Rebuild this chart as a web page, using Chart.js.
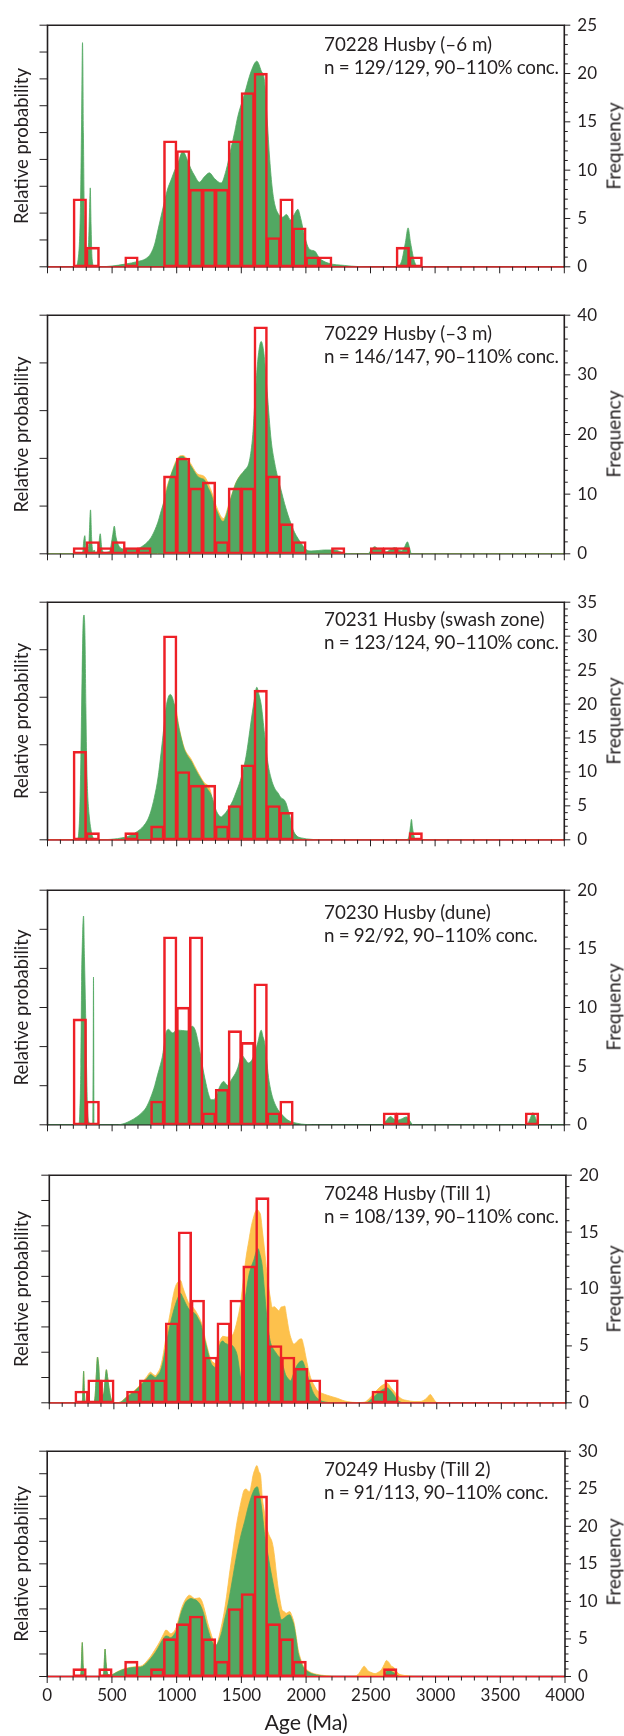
<!DOCTYPE html>
<html lang="en">
<head>
<meta charset="UTF-8" />
<title>Husby detrital zircon ages</title>
<script src="https://cdn.jsdelivr.net/npm/chart.js"></script>
<style>
  body { margin: 0; background: #fff; }
  #page { position: relative; width: 624px; height: 1736px; overflow: hidden; font-family: Lato, sans-serif; color: #231f20; }
  .panel { position: absolute; left: 0; }
  .sample { position: absolute; left: 324px; font-size: 18.8px; line-height: 23px; white-space: nowrap; }
  .sample span { letter-spacing: -0.3px; }
  .freq { position: absolute; left: 613px; font-size: 19px; white-space: nowrap; transform: translate(-50%, -50%) rotate(-90deg); }
</style>
</head>
<body>
<div id="page"></div>

<script>
  // ---- data ----
  // histogram bins (100 Ma wide), bin mid-points
  const binMid = [50,150,250,350,450,550,650,750,850,950,1050,1150,1250,1350,1450,1550,1650,1750,1850,1950,
                  2050,2150,2250,2350,2450,2550,2650,2750,2850,2950,3050,3150,3250,3350,3450,3550,3650,3750,3850,3950];

  const freq1 = [0,0,7,2,0,0,1,0,0,13, 12,8,8,8,13,18,20,3,7,4, 1,1,0,0,0,0,0,2,1,0, 0,0,0,0,0,0,0,0,0,0];
  const freq2 = [0,0,1,2,1,2,1,1,0,13, 16,11,12,2,11,11,38,13,5,2, 0,0,1,0,0,1,1,1,0,0, 0,0,0,0,0,0,0,0,0,0];
  const freq3 = [0,0,13,1,0,0,1,0,2,30, 10,8,8,2,5,11,22,5,4,0, 0,0,0,0,0,0,0,0,1,0, 0,0,0,0,0,0,0,0,0,0];
  const freq4 = [0,0,9,2,0,0,0,0,2,16, 10,16,1,3,8,7,12,1,2,0, 0,0,0,0,0,0,1,1,0,0, 0,0,0,0,0,0,0,1,0,0];
  const freq5 = [0,0,1,2,2,0,1,2,2,7, 15,9,4,7,9,12,18,5,4,3, 2,0,0,0,0,1,2,0,0,0, 0,0,0,0,0,0,0,0,0,0];
  const freq6 = [0,0,1,0,1,0,2,0,1,5, 7,8,5,2,9,11,24,7,5,2, 0,0,0,0,0,0,1,0,0,0, 0,0,0,0,0,0,0,0,0,0];

  // relative probability curves, [age Ma, value in left-axis tick units]
  const pdp1 = [[0,0],[215,0],[240,0.4],[255,2.2],[264,5.5],[271,8.35],[278,5.0],[285,1.8],[293,0.6],[305,0.4],[318,0.9],[326,2.2],[331,2.94],[337,1.6],[345,0.3],[360,0.02],[400,0],[500,0.03],[600,0.1],[700,0.2],[760,0.3],[800,0.5],[830,0.85],[853,1.33],[880,1.9],[904,2.4],[930,2.9],[956,3.23],[985,3.6],[1008,3.83],[1047,4.3],[1085,3.95],[1110,3.65],[1137,3.41],[1176,3.15],[1214,3.35],[1253,3.5],[1292,3.29],[1344,3.12],[1382,3.59],[1421,4.42],[1450,5.05],[1473,5.6],[1525,6.44],[1576,7.28],[1620,7.66],[1654,7.3],[1680,6.9],[1700,5.5],[1720,4.0],[1740,2.9],[1760,2.3],[1790,1.95],[1820,1.85],[1850,1.95],[1880,1.75],[1910,1.95],[1938,2.14],[1960,1.8],[1985,1.25],[2016,0.74],[2040,0.62],[2067,0.59],[2106,0.32],[2171,0.14],[2300,0.05],[2403,0.01],[2500,0],[2700,0],[2740,0.2],[2770,0.9],[2791,1.45],[2810,0.9],[2840,0.2],[2870,0],[4000,0]];

  const pdp2 = [[0,0],[270,0],[282,0.3],[289,0.38],[296,0.15],[305,0.05],[320,0.2],[333,0.92],[342,0.3],[352,0.05],[362,0.08],[372,0.02],[395,0.15],[408,0.42],[420,0.12],[440,0.03],[480,0.05],[505,0.4],[517,0.58],[530,0.35],[556,0.15],[594,0.1],[650,0.1],[698,0.11],[740,0.17],[775,0.25],[810,0.38],[853,0.65],[880,0.9],[904,1.12],[930,1.4],[956,1.65],[985,1.85],[1008,1.99],[1047,2.04],[1075,1.97],[1098,1.89],[1130,1.75],[1163,1.62],[1190,1.58],[1214,1.55],[1240,1.4],[1266,1.25],[1295,1.0],[1318,0.85],[1345,0.7],[1362,0.68],[1385,0.82],[1408,1.05],[1435,1.3],[1460,1.49],[1495,1.65],[1525,1.75],[1563,1.95],[1589,2.5],[1602,3.06],[1615,3.6],[1628,4.07],[1654,4.45],[1670,4.3],[1680,4.07],[1700,3.4],[1731,2.38],[1757,1.92],[1783,1.59],[1809,1.32],[1835,1.05],[1873,0.72],[1912,0.45],[1964,0.22],[2000,0.09],[2041,0.06],[2100,0.07],[2145,0.08],[2222,0.08],[2260,0.05],[2300,0.01],[2400,0],[2480,0],[2510,0.1],[2532,0.15],[2560,0.1],[2584,0.08],[2620,0.04],[2660,0.1],[2687,0.13],[2715,0.08],[2740,0.06],[2765,0.15],[2786,0.25],[2800,0.15],[2817,0],[4000,0]];
  const orange2 = [[0,0],[850,0],[900,1.1],[956,1.66],[1008,2.01],[1047,2.06],[1098,1.93],[1163,1.67],[1214,1.62],[1266,1.33],[1318,0.92],[1362,0.74],[1408,1.08],[1460,1.5],[1525,1.7],[1600,0],[4000,0]];

  const pdp3 = [[0,0],[230,0],[250,0.6],[258,1.69],[268,3.5],[276,4.58],[283,4.73],[290,4.3],[297,2.8],[303,1.7],[310,1.02],[323,0.5],[336,0.22],[350,0.06],[362,0.02],[400,0],[491,0.01],[594,0.05],[650,0.1],[698,0.18],[740,0.28],[775,0.42],[800,0.6],[827,0.89],[855,1.3],[879,1.83],[900,2.35],[917,2.77],[935,3.0],[951,3.06],[966,3.0],[982,2.84],[1000,2.6],[1021,2.3],[1040,2.08],[1059,1.9],[1085,1.76],[1111,1.66],[1137,1.52],[1163,1.39],[1190,1.27],[1214,1.16],[1240,1.06],[1266,0.95],[1285,0.8],[1305,0.62],[1325,0.52],[1344,0.48],[1362,0.52],[1382,0.58],[1410,0.7],[1434,0.82],[1460,1.0],[1486,1.19],[1510,1.42],[1537,1.76],[1556,2.1],[1576,2.5],[1598,2.9],[1620,3.21],[1637,3.05],[1654,2.84],[1680,2.22],[1705,1.63],[1731,1.29],[1757,1.09],[1783,0.99],[1809,0.88],[1829,0.85],[1845,0.78],[1860,0.65],[1880,0.45],[1899,0.22],[1930,0.08],[1964,0.04],[2041,0.01],[2100,0],[2780,0],[2800,0.1],[2810,0.3],[2817,0.43],[2825,0.25],[2840,0.05],[2850,0],[4000,0]];
  const orange3 = [[0,0],[950,0],[982,2.86],[1021,2.33],[1059,1.93],[1111,1.7],[1163,1.43],[1214,1.2],[1266,0.98],[1300,0],[4000,0]];

  const pdp4 = [[0,0],[240,0],[250,0.3],[258,1.5],[264,3.66],[272,4.9],[279,5.34],[286,4.3],[295,2.85],[302,1.5],[310,0.39],[323,0.05],[335,0],[352,0],[356,3.78],[360,0],[400,0],[540,0],[568,0.01],[600,0.04],[646,0.11],[690,0.2],[724,0.29],[765,0.45],[801,0.72],[830,1.0],[853,1.29],[875,1.55],[891,1.78],[905,2.1],[917,2.35],[938,2.44],[955,2.38],[969,2.35],[990,2.4],[1008,2.42],[1047,2.41],[1080,2.4],[1100,2.45],[1119,2.52],[1135,2.48],[1150,2.35],[1170,2.05],[1189,1.7],[1208,1.35],[1227,1.05],[1245,0.8],[1266,0.64],[1285,0.64],[1305,0.72],[1331,0.96],[1364,1.11],[1380,1.05],[1395,1.01],[1414,1.1],[1434,1.21],[1455,1.32],[1473,1.46],[1504,1.78],[1525,1.7],[1556,1.58],[1589,1.7],[1610,1.9],[1628,2.11],[1654,2.42],[1668,2.25],[1680,2.11],[1695,1.7],[1711,1.21],[1727,0.9],[1744,0.68],[1765,0.5],[1783,0.39],[1810,0.28],[1835,0.19],[1860,0.12],[1886,0.08],[1930,0.04],[1964,0.02],[2050,0],[2590,0],[2620,0.1],[2654,0.21],[2680,0.15],[2700,0.11],[2740,0.15],[2778,0.2],[2800,0.12],[2830,0],[3710,0],[3735,0.15],[3757,0.31],[3780,0.15],[3800,0],[4000,0]];

  const pdp5 = [[0,0],[250,0],[258,0.2],[266,1.25],[272,0.4],[280,0],[345,0],[355,0.3],[364,1.12],[373,1.81],[382,1.5],[392,0.62],[405,0.3],[421,0.37],[432,0.9],[442,1.31],[452,1.0],[462,0.6],[476,0.2],[490,0.05],[500,0],[550,0.02],[602,0.24],[654,0.43],[705,0.68],[735,0.85],[757,0.97],[783,1.12],[805,1.05],[822,1.0],[840,1.1],[860,1.25],[880,1.6],[899,2.13],[920,2.7],[938,3.14],[958,3.55],[977,3.89],[1000,4.2],[1016,4.33],[1035,4.15],[1054,3.95],[1075,3.75],[1093,3.64],[1112,3.58],[1132,3.51],[1150,3.35],[1171,3.14],[1190,2.8],[1209,2.38],[1228,2.0],[1248,1.62],[1268,1.45],[1287,1.4],[1300,1.7],[1313,2.13],[1328,2.38],[1344,2.44],[1360,2.36],[1377,2.32],[1400,2.3],[1421,2.25],[1440,2.1],[1455,1.88],[1470,1.4],[1481,1.0],[1493,1.8],[1506,3.64],[1525,4.4],[1545,5.03],[1565,5.4],[1584,5.65],[1600,5.95],[1615,6.1],[1632,5.85],[1649,5.4],[1665,4.5],[1682,3.51],[1697,2.85],[1713,2.38],[1732,2.15],[1752,2.0],[1772,1.85],[1791,1.75],[1810,1.45],[1829,1.12],[1850,0.95],[1868,0.87],[1888,1.1],[1907,1.37],[1935,1.6],[1959,1.66],[1977,1.45],[1997,1.12],[2016,0.8],[2036,0.49],[2055,0.3],[2075,0.18],[2100,0.09],[2127,0.04],[2200,0],[2450,0],[2480,0.08],[2514,0.24],[2560,0.45],[2600,0.57],[2618,0.59],[2640,0.5],[2670,0.3],[2695,0.11],[2720,0.03],[2740,0],[4000,0]];
  const orange5 = [[0,0],[250,0],[258,0.2],[266,1.25],[272,0.4],[280,0],[345,0],[355,0.3],[364,1.12],[373,1.81],[382,1.5],[392,0.62],[405,0.3],[421,0.37],[432,0.9],[442,1.31],[452,1.0],[462,0.6],[476,0.2],[490,0.05],[500,0],[550,0.03],[602,0.26],[654,0.46],[705,0.72],[757,1.05],[783,1.21],[805,1.12],[822,1.08],[840,1.2],[860,1.4],[880,1.85],[899,2.45],[920,3.1],[938,3.6],[958,4.2],[977,4.6],[1000,4.8],[1016,4.84],[1035,4.55],[1054,4.27],[1075,4.0],[1093,3.89],[1112,3.78],[1132,3.64],[1150,3.48],[1171,3.26],[1190,2.95],[1209,2.5],[1228,2.1],[1248,1.75],[1268,1.6],[1287,1.56],[1300,1.85],[1313,2.3],[1330,2.55],[1344,2.63],[1377,2.6],[1400,2.63],[1421,2.7],[1440,2.95],[1455,3.26],[1480,3.9],[1506,5.03],[1525,5.8],[1545,6.41],[1565,7.0],[1579,7.29],[1595,7.55],[1610,7.64],[1625,7.55],[1636,7.42],[1650,6.8],[1667,6.03],[1683,5.2],[1700,4.52],[1713,4.1],[1726,3.77],[1742,3.8],[1757,3.74],[1778,3.64],[1796,3.79],[1810,3.8],[1822,3.83],[1838,3.4],[1855,2.88],[1875,2.5],[1894,2.32],[1915,2.4],[1933,2.5],[1953,2.53],[1970,2.25],[1984,1.88],[2003,1.4],[2023,1.0],[2050,0.7],[2075,0.49],[2110,0.38],[2152,0.3],[2190,0.24],[2230,0.18],[2270,0.1],[2307,0.05],[2385,0.01],[2437,0.02],[2480,0.18],[2514,0.37],[2560,0.62],[2600,0.75],[2618,0.77],[2645,0.6],[2670,0.45],[2695,0.3],[2730,0.15],[2773,0.09],[2824,0.05],[2870,0.05],[2900,0.1],[2925,0.2],[2950,0.33],[2970,0.2],[2990,0.05],[3010,0],[4000,0]];

  const pdp6 = [[0,0],[255,0],[262,0.3],[271,1.51],[278,0.5],[286,0.05],[300,0],[430,0],[438,0.3],[447,1.22],[455,0.6],[465,0.15],[475,0.08],[491,0.06],[520,0.13],[543,0.2],[570,0.27],[594,0.32],[620,0.36],[646,0.39],[690,0.41],[724,0.42],[750,0.5],[775,0.64],[800,0.8],[827,1.0],[855,1.25],[879,1.51],[900,1.7],[917,1.8],[935,1.78],[951,1.72],[972,1.8],[995,2.01],[1015,2.4],[1034,2.81],[1053,3.1],[1072,3.32],[1092,3.42],[1111,3.46],[1130,3.43],[1150,3.39],[1170,3.28],[1189,3.1],[1208,2.8],[1227,2.38],[1246,2.0],[1266,1.65],[1282,1.45],[1297,1.36],[1314,1.45],[1331,1.65],[1350,2.0],[1370,2.52],[1390,3.0],[1408,3.54],[1428,4.2],[1447,4.84],[1466,5.45],[1486,6.0],[1505,6.45],[1525,6.87],[1541,7.25],[1556,7.59],[1572,7.9],[1589,8.17],[1605,8.35],[1623,8.42],[1638,8.1],[1654,7.59],[1668,6.9],[1680,6.29],[1693,5.8],[1705,5.42],[1720,4.9],[1736,4.41],[1753,3.9],[1770,3.39],[1790,2.9],[1809,2.52],[1830,2.58],[1847,2.67],[1873,2.74],[1890,2.55],[1907,2.23],[1922,1.7],[1938,1.07],[1957,0.7],[1977,0.42],[2005,0.25],[2041,0.13],[2080,0.07],[2119,0.03],[2200,0],[2590,0],[2610,0.1],[2636,0.32],[2660,0.22],[2687,0.13],[2710,0.03],[2730,0],[4000,0]];
  const orange6 = [[0,0],[255,0],[262,0.3],[271,1.51],[278,0.5],[286,0.05],[300,0],[430,0],[438,0.3],[447,1.22],[455,0.6],[465,0.15],[475,0.08],[491,0.07],[543,0.22],[594,0.34],[646,0.41],[690,0.44],[724,0.46],[750,0.56],[775,0.72],[800,0.9],[827,1.14],[855,1.4],[879,1.65],[900,1.9],[917,2.06],[935,2.0],[951,1.9],[972,1.95],[995,2.16],[1015,2.55],[1034,2.96],[1053,3.25],[1072,3.46],[1098,3.61],[1118,3.55],[1137,3.46],[1157,3.47],[1176,3.49],[1195,3.35],[1209,3.1],[1225,2.75],[1240,2.38],[1260,2.0],[1279,1.65],[1292,1.45],[1305,1.36],[1316,1.5],[1331,1.85],[1350,2.35],[1370,2.96],[1390,3.75],[1408,4.55],[1428,5.35],[1447,6.14],[1466,6.85],[1486,7.45],[1505,7.95],[1519,8.25],[1537,8.32],[1550,8.25],[1563,8.2],[1577,8.5],[1589,8.9],[1605,9.2],[1620,9.36],[1635,9.1],[1649,8.9],[1662,7.9],[1674,7.45],[1690,6.85],[1705,6.43],[1720,6.2],[1736,6.0],[1747,5.7],[1757,5.28],[1770,4.6],[1783,3.97],[1800,3.35],[1814,2.96],[1830,2.88],[1847,2.81],[1873,2.88],[1890,2.7],[1907,2.38],[1922,1.85],[1938,1.22],[1957,0.8],[1977,0.49],[2005,0.3],[2041,0.17],[2080,0.1],[2119,0.06],[2160,0.03],[2196,0.01],[2250,0],[2377,0.01],[2400,0.08],[2416,0.2],[2435,0.38],[2448,0.46],[2465,0.36],[2480,0.24],[2494,0.2],[2515,0.15],[2532,0.13],[2560,0.2],[2584,0.32],[2605,0.55],[2620,0.71],[2640,0.62],[2660,0.45],[2674,0.42],[2690,0.3],[2713,0.13],[2740,0.07],[2765,0.04],[2800,0.02],[2850,0],[4000,0]];

  const sampleName = ['70228 Husby (\u20136 m)', '70229 Husby (\u20133 m)', '70231 Husby (swash zone)',
                      '70230 Husby (dune)', '70248 Husby (Till 1)', '70249 Husby (Till 2)'];
  const sampleN = ['n = 129/129, 90\u2013110% conc.', 'n = 146/147, 90\u2013110% conc.', 'n = 123/124, 90\u2013110% conc.',
                   'n = 92/92, 90\u2013110% conc.', 'n = 108/139, 90\u2013110% conc.', 'n = 91/113, 90\u2013110% conc.'];

  const relMax = [9, 5, 5, 6, 9, 10];        // left axis tick count
  const freqMax = [25, 40, 35, 20, 20, 30];
  const freqMajor = [5, 10, 5, 5, 5, 5];
  const freqMinor = [1, 2, 1, 1, 1, 1];
  const ageMax = 4000;

  const freqs = [freq1, freq2, freq3, freq4, freq5, freq6];
  const greens = [pdp1, pdp2, pdp3, pdp4, pdp5, pdp6];
  const oranges = [null, orange2, orange3, null, orange5, orange6];

  // ---- layout (page pixels) ----
  const plotTop = [20, 310, 597, 885, 1170, 1446.5];
  const plotBottom = [272, 558.3, 845, 1129.3, 1408, 1676.5];
  const plotLeft = [47.5, 47.5, 47.5, 47.5, 49.3, 47.2];
  const plotRight = [564.3, 564.3, 564.3, 564.3, 565.9, 565];
  const labelDy = [11.9, 11.2, 9.9, 14.5, 11.2, 10.5];
  const redBase = [true, false, true, false, true, true];

  const ink = '#231f20';
  const green = '#52a862';
  const orange = '#fdc14c';
  const red = '#ee2027';

  Chart.defaults.font.family = 'Lato, sans-serif';
  Chart.defaults.color = ink;

  // frame, tick marks and the histogram base line
  const axesPlugin = {
    id: 'husbyAxes',
    beforeDatasetsDraw(chart) {
      const { ctx, chartArea: a } = chart;
      ctx.save();
      ctx.strokeStyle = ink;
      ctx.lineWidth = 1.5;
      ctx.beginPath();
      ctx.moveTo(a.left, a.bottom);
      ctx.lineTo(a.right, a.bottom);
      ctx.stroke();
      ctx.restore();
    },
    afterDatasetsDraw(chart, args, o) {
      const { ctx, chartArea: a, scales } = chart;
      const { x, yL, yR } = scales;
      ctx.save();
      if (o.redBase) {
        ctx.strokeStyle = red;
        ctx.lineWidth = 1.3;
        ctx.beginPath();
        ctx.moveTo(a.left, a.bottom);
        ctx.lineTo(a.right, a.bottom);
        ctx.stroke();
      }
      ctx.strokeStyle = ink;
      ctx.lineWidth = 1.6;
      ctx.beginPath();
      ctx.moveTo(a.left, a.bottom + 0.8);
      ctx.lineTo(a.left, a.top);
      ctx.lineTo(a.right, a.top);
      ctx.lineTo(a.right, a.bottom + 0.8);
      ctx.stroke();

      ctx.lineWidth = 1;
      ctx.beginPath();
      for (let v = 0; v <= yL.max; v++) {
        const y = yL.getPixelForValue(v);
        ctx.moveTo(a.left - 8, y);
        ctx.lineTo(a.left, y);
      }
      for (let v = 0; v <= yR.max; v += o.minor) {
        const y = yR.getPixelForValue(v);
        const len = v % o.major === 0 ? 6 : 3.5;
        ctx.moveTo(a.right, y);
        ctx.lineTo(a.right + len, y);
      }
      for (let v = 0; v <= x.max; v += 100) {
        const px = x.getPixelForValue(v);
        const len = v % 500 === 0 ? 6.5 : 4;
        ctx.moveTo(px, a.bottom);
        ctx.lineTo(px, a.bottom + len);
      }
      ctx.stroke();
      ctx.restore();
    }
  };

  const page = document.getElementById('page');

  for (let i = 0; i < 6; i++) {
    const last = i === 5;
    const cTop = Math.floor(plotTop[i]) - 12;
    const cBottom = last ? 1736 : Math.ceil(plotBottom[i]) + 12;
    const cH = cBottom - cTop;
    const padTop = plotTop[i] - cTop;
    const xAxisH = cBottom - plotBottom[i];

    const wrap = document.createElement('div');
    wrap.className = 'panel';
    wrap.style.top = cTop + 'px';
    const canvas = document.createElement('canvas');
    canvas.width = 624;
    canvas.height = cH;
    wrap.appendChild(canvas);
    page.appendChild(wrap);

    const label = document.createElement('div');
    label.className = 'sample';
    label.style.top = (plotTop[i] + labelDy[i]) + 'px';
    label.innerHTML = sampleName[i] + '<br><span>' + sampleN[i] + '</span>';
    page.appendChild(label);

    const fq = document.createElement('div');
    fq.className = 'freq';
    fq.style.top = ((plotTop[i] + plotBottom[i]) / 2) + 'px';
    fq.textContent = 'Frequency';
    page.appendChild(fq);

    const datasets = [{
      type: 'bar',
      label: 'Frequency',
      data: binMid.map((m, k) => ({ x: m, y: freqs[i][k] })).filter(p => p.y > 0),
      xAxisID: 'x',
      yAxisID: 'yR',
      backgroundColor: 'rgba(0,0,0,0)',
      borderColor: red,
      borderWidth: 1.3,
      borderSkipped: false,
      inflateAmount: 0.65,
      barPercentage: 1,
      categoryPercentage: 1,
      order: 0
    }, {
      type: 'line',
      label: 'Relative probability',
      data: greens[i].map(p => ({ x: p[0], y: p[1] })),
      xAxisID: 'x',
      yAxisID: 'yL',
      fill: 'origin',
      backgroundColor: green,
      borderColor: green,
      borderWidth: 0.8,
      pointRadius: 0,
      cubicInterpolationMode: 'monotone',
      order: 1
    }];
    if (oranges[i]) {
      datasets.push({
        type: 'line',
        label: 'Relative probability (all)',
        data: oranges[i].map(p => ({ x: p[0], y: p[1] })),
        xAxisID: 'x',
        yAxisID: 'yL',
        fill: 'origin',
        backgroundColor: orange,
        borderColor: orange,
        borderWidth: 0.8,
        pointRadius: 0,
        cubicInterpolationMode: 'monotone',
        order: 2
      });
    }

    new Chart(canvas, {
      type: 'bar',
      data: { datasets },
      options: {
        responsive: false,
        animation: false,
        events: [],
        layout: { autoPadding: false, padding: { top: padTop, left: 0, right: 0, bottom: 0 } },
        plugins: {
          legend: { display: false },
          tooltip: { enabled: false },
          husbyAxes: { major: freqMajor[i], minor: freqMinor[i], redBase: redBase[i] }
        },
        scales: {
          x: {
            type: 'linear',
            position: 'bottom',
            min: 0,
            max: ageMax,
            offset: false,
            grid: { display: false, drawTicks: true, tickLength: 6 },
            border: { display: false },
            ticks: { display: last, stepSize: 500, autoSkip: false, maxRotation: 0, padding: 3,
                     font: { size: 17 }, callback: v => String(v) },
            title: { display: last, text: 'Age (Ma)', font: { size: 21.4 }, padding: { top: 0, bottom: 0 } },
            afterFit: s => { s.height = xAxisH; }
          },
          yL: {
            type: 'linear',
            position: 'left',
            min: 0,
            max: relMax[i],
            grid: { display: false, drawTicks: false },
            border: { display: false },
            ticks: { display: false, stepSize: 1 },
            title: { display: true, text: 'Relative probability', font: { size: 18.5 }, padding: { top: 10.8, bottom: 0 } },
            afterFit: s => { s.width = plotLeft[i]; }
          },
          yR: {
            type: 'linear',
            position: 'right',
            min: 0,
            max: freqMax[i],
            grid: { display: false, drawTicks: true, tickLength: 6 },
            border: { display: false },
            ticks: { stepSize: freqMajor[i], padding: 7, font: { size: 17 } },
            afterFit: s => { s.width = 624 - plotRight[i]; }
          }
        }
      },
      plugins: [axesPlugin]
    });
  }
</script>
</body>
</html>
